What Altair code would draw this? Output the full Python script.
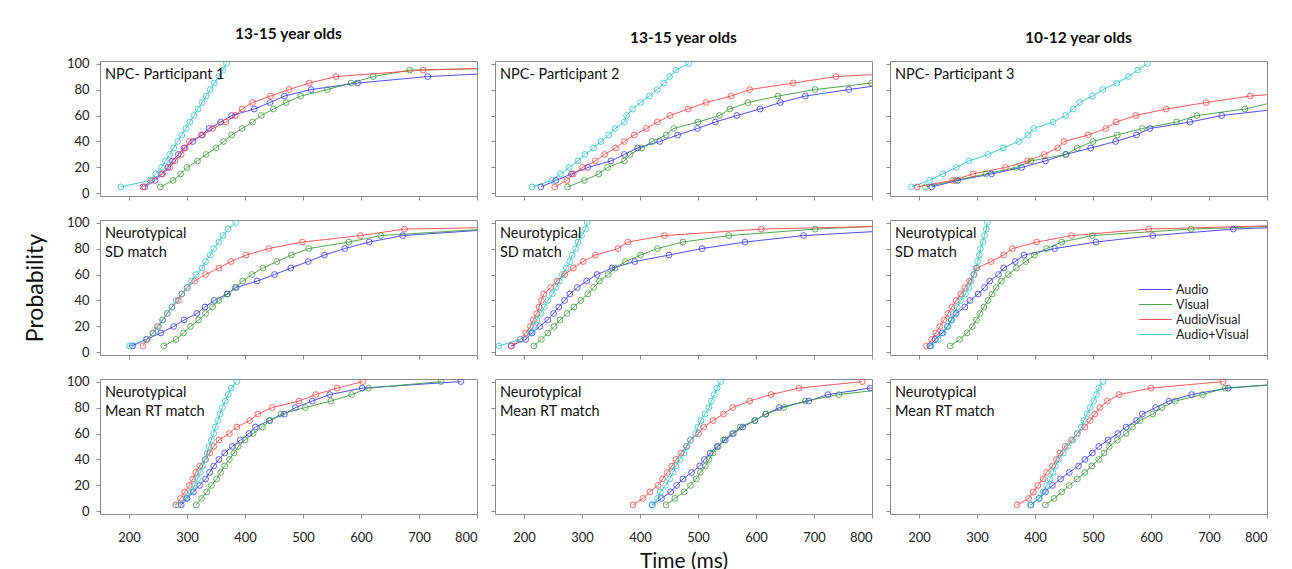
import altair as alt
import pandas as pd

FONT = "Lato"
SERIES = ["Audio", "Visual", "AudioVisual", "Audio+Visual"]
COLORS = ["#3a3aff", "#3d9d3d", "#ff4545", "#2cc8c8"]
LEVELS = [5, 10, 15, 20, 25, 30, 35, 40, 45, 50, 55, 60, 65, 70, 75, 80, 85, 90, 95, 100]
X_TICKS = [200, 300, 400, 500, 600, 700, 800]
Y_TICKS = [0, 20, 40, 60, 80, 100]
COL_TITLES = ["13-15 year olds", "13-15 year olds", "10-12 year olds"]

# ---- NPC Participant 1 (times in ms at cumulative probability 5,10,...)
P1_A = [227, 245, 256, 267, 275, 285, 295, 310, 325, 338, 358, 377, 416, 443, 468, 514, 594, 715]
P1_V = [254, 276, 289, 300, 318, 333, 350, 363, 377, 395, 413, 428, 449, 471, 496, 542, 583, 621, 684]
P1_AV = [224, 239, 258, 270, 279, 290, 297, 304, 327, 344, 367, 383, 395, 413, 444, 476, 511, 557, 707]
P1_AplusV = [186, 236, 246, 256, 263, 270, 277, 284, 291, 298, 305, 312, 319, 326, 333, 340, 347, 355, 362, 368]
P1_TAIL = {"Audio": 1150, "Visual": 1250, "AudioVisual": 1100}

# ---- NPC Participant 2
P2_A = [229, 255, 282, 310, 350, 373, 396, 434, 465, 499, 530, 567, 607, 642, 685, 760]
P2_V = [275, 304, 329, 344, 373, 383, 403, 421, 445, 458, 500, 537, 555, 586, 638, 702, 799]
P2_AV = [253, 274, 285, 301, 323, 339, 358, 373, 390, 411, 430, 452, 483, 514, 557, 589, 664, 738]
P2_AplusV = [214, 248, 263, 278, 293, 305, 320, 333, 346, 357, 373, 377, 387, 401, 416, 430, 441, 451, 462, 484]
P2_TAIL = {"Audio": 1080, "Visual": 1150, "AudioVisual": 1150}

# ---- NPC Participant 3
P3_A = [222, 267, 325, 377, 418, 453, 496, 539, 575, 598, 667, 722]
P3_V = [211, 263, 315, 368, 393, 453, 473, 500, 542, 585, 644, 679, 762]
P3_AV = [197, 258, 293, 349, 387, 416, 439, 450, 492, 522, 540, 574, 626, 695, 771]
P3_AplusV = [187, 218, 241, 264, 286, 319, 345, 372, 388, 398, 431, 453, 466, 477, 499, 517, 541, 561, 577, 594]
P3_TAIL = {"Audio": 1500, "Visual": 1095, "AudioVisual": 1500}

# ---- SD match 1
S1_A = [206, 230, 255, 277, 295, 317, 331, 347, 369, 385, 421, 451, 479, 509, 537, 572, 614, 672]
S1_V = [260, 281, 294, 306, 320, 332, 344, 355, 370, 383, 396, 412, 431, 455, 480, 510, 579, 634]
S1_AV = [224, 231, 241, 249, 258, 266, 274, 285, 291, 300, 313, 332, 355, 376, 402, 441, 499, 599, 675]
S1_AplusV = [201, 230, 242, 251, 258, 266, 274, 281, 291, 301, 308, 316, 326, 332, 340, 346, 355, 362, 371, 384]
S1_TAIL = {"Audio": 1000, "Visual": 1000, "AudioVisual": 1300}

# ---- SD match 2
S2_A = [178, 203, 214, 227, 241, 251, 260, 270, 279, 292, 308, 326, 352, 391, 450, 507, 581, 682]
S2_V = [217, 230, 241, 252, 262, 274, 286, 298, 310, 320, 330, 345, 357, 375, 401, 430, 474, 553, 702]
S2_AV = [178, 194, 203, 211, 216, 222, 226, 230, 234, 246, 257, 270, 285, 302, 323, 362, 379, 442, 609]
S2_AplusV = [157, 193, 211, 216, 222, 229, 235, 241, 249, 255, 261, 266, 273, 279, 283, 289, 293, 299, 306, 309]
S2_TAIL = {"Audio": 1075, "Visual": 950, "AudioVisual": 1090}

# ---- SD match 3
S3_A = [219, 228, 240, 249, 256, 264, 279, 288, 302, 313, 322, 337, 346, 366, 381, 434, 505, 603, 742]
S3_V = [254, 270, 283, 292, 299, 305, 312, 319, 326, 333, 342, 354, 368, 384, 399, 420, 446, 499, 669]
S3_AV = [213, 222, 229, 236, 243, 250, 257, 264, 272, 279, 287, 295, 300, 324, 346, 361, 403, 463, 596]
S3_AplusV = [221, 233, 242, 250, 255, 260, 266, 272, 280, 286, 290, 294, 298, 301, 304, 306, 310, 313, 316, 318]
S3_TAIL = {"Audio": 1030, "Visual": 1000, "AudioVisual": 1000}

# ---- Mean RT match 1
M1_A = [290, 300, 311, 322, 332, 339, 346, 355, 365, 378, 392, 407, 418, 442, 468, 487, 516, 546, 602, 772]
M1_V = [316, 325, 334, 342, 351, 358, 365, 373, 381, 388, 400, 414, 430, 443, 462, 504, 548, 584, 613, 738]
M1_AV = [281, 289, 296, 304, 310, 315, 322, 332, 339, 346, 355, 373, 386, 408, 422, 447, 493, 522, 559, 603]
M1_AplusV = [285, 298, 307, 313, 318, 323, 327, 331, 335, 338, 342, 346, 349, 353, 357, 361, 366, 371, 376, 386]
M1_TAIL = {}

# ---- Mean RT match 2
M2_A = [421, 437, 453, 463, 474, 489, 503, 511, 521, 533, 547, 561, 577, 598, 617, 640, 691, 724, 797]
M2_V = [445, 460, 476, 487, 497, 504, 513, 519, 526, 535, 544, 559, 573, 598, 617, 648, 685, 743]
M2_AV = [388, 405, 417, 431, 439, 447, 455, 462, 471, 480, 487, 501, 510, 526, 544, 560, 589, 626, 674, 783]
M2_AplusV = [421, 430, 435, 444, 451, 457, 462, 469, 476, 481, 487, 496, 500, 505, 512, 519, 523, 528, 533, 539]
M2_TAIL = {"Audio": 1000, "Visual": 933}

# ---- Mean RT match 3
M3_A = [393, 407, 418, 430, 444, 459, 475, 486, 499, 510, 526, 543, 557, 575, 585, 608, 631, 670, 733]
M3_V = [418, 433, 446, 459, 473, 486, 498, 510, 519, 528, 542, 557, 568, 581, 603, 619, 642, 689, 728]
M3_AV = [369, 389, 397, 405, 414, 420, 430, 437, 443, 452, 463, 473, 486, 495, 503, 512, 525, 545, 600, 724]
M3_AplusV = [392, 407, 414, 420, 426, 431, 435, 441, 449, 456, 465, 473, 480, 484, 490, 495, 501, 506, 510, 517]
M3_TAIL = {"Audio": 880, "Visual": 880}

PANELS = [
    [("NPC- Participant 1", [P1_A, P1_V, P1_AV, P1_AplusV], P1_TAIL),
     ("NPC- Participant 2", [P2_A, P2_V, P2_AV, P2_AplusV], P2_TAIL),
     ("NPC- Participant 3", [P3_A, P3_V, P3_AV, P3_AplusV], P3_TAIL)],
    [("Neurotypical\nSD match", [S1_A, S1_V, S1_AV, S1_AplusV], S1_TAIL),
     ("Neurotypical\nSD match", [S2_A, S2_V, S2_AV, S2_AplusV], S2_TAIL),
     ("Neurotypical\nSD match", [S3_A, S3_V, S3_AV, S3_AplusV], S3_TAIL)],
    [("Neurotypical\nMean RT match", [M1_A, M1_V, M1_AV, M1_AplusV], M1_TAIL),
     ("Neurotypical\nMean RT match", [M2_A, M2_V, M2_AV, M2_AplusV], M2_TAIL),
     ("Neurotypical\nMean RT match", [M3_A, M3_V, M3_AV, M3_AplusV], M3_TAIL)],
]

W, H = 377, 135


def make_panel(r, c, label, series_lists, tail):
    rows = []
    for name, xs in zip(SERIES, series_lists):
        for lv, t in zip(LEVELS, xs):
            rows.append({"series": name, "level": lv, "time": t})
        if name in tail:
            rows.append({"series": name, "level": 100, "time": tail[name]})
    df = pd.DataFrame(rows)

    x_axis = alt.Axis(values=X_TICKS, labels=(r == 2), ticks=True,
                      title="Time (ms)" if (r == 2 and c == 1) else None,
                      labelPadding=13, titlePadding=6, titleFontSize=21)
    y_axis = alt.Axis(values=Y_TICKS, labels=(c == 0), ticks=True,
                      title="Probability" if (r == 1 and c == 0) else None,
                      labelPadding=7, titlePadding=19, titleFontSize=23)
    x = alt.X("time:Q", scale=alt.Scale(domain=[150, 800], nice=False, zero=False), axis=x_axis)
    y = alt.Y("level:Q", scale=alt.Scale(domain=[-2, 102], nice=False, zero=False), axis=y_axis)
    color_line = alt.Color("series:N", scale=alt.Scale(domain=SERIES, range=COLORS),
                           legend=alt.Legend(title=None))
    stroke_pt = alt.Stroke("series:N", scale=alt.Scale(domain=SERIES, range=COLORS), legend=None)

    base = alt.Chart(df)
    lines = base.mark_line(clip=True, strokeWidth=1, opacity=0.9).encode(
        x=x, y=y, color=color_line, detail="series:N", order=alt.Order("level:Q"))
    pts = base.mark_point(clip=True, filled=False, size=34, strokeWidth=0.9, opacity=0.9).encode(
        x=x, y=y, stroke=stroke_pt)
    txt = alt.Chart(alt.Data(values=[{"label": label}])).mark_text(
        align="left", baseline="top", fontSize=14.5, font=FONT, lineBreak="\n",
        lineHeight=19, color="#111").encode(text="label:N", x=alt.value(5), y=alt.value(7))
    ch = alt.layer(lines, pts, txt).properties(width=W, height=H)
    if r == 0:
        ch = ch.properties(title=alt.TitleParams(COL_TITLES[c], fontSize=15.5, fontWeight="bold",
                                                 font=FONT, offset=15, anchor="middle", color="#111"))
    return ch


rows = []
for r in range(3):
    rows.append(alt.hconcat(*[make_panel(r, c, *PANELS[r][c]) for c in range(3)], spacing=12))

chart = alt.vconcat(*rows, spacing=15).properties(
    padding={"left": 23, "top": 26, "right": 5, "bottom": 0}
).configure_view(stroke="#8a8a8a", strokeWidth=1).configure_axis(
    domain=False, grid=False, tickColor="#8a8a8a", tickSize=4, labelFont=FONT,
    labelFontSize=13, labelColor="#222", titleFont=FONT,
    titleFontWeight="normal", titleColor="#111"
).configure_legend(
    orient="none", legendX=1038, legendY=221, symbolType="stroke", symbolSize=1100,
    symbolStrokeWidth=1.2, labelFont=FONT, labelFontSize=12.5, labelColor="#222",
    rowPadding=0, clipHeight=15, labelOffset=3
)

chart.save("out.html", embed_options={"renderer": "svg", "actions": False})
